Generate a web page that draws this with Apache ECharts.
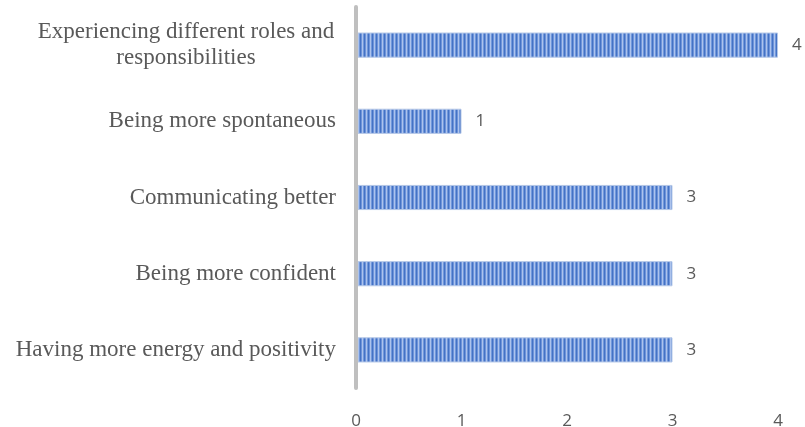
<!DOCTYPE html>
<html><head><meta charset="utf-8">
<script src="https://cdn.jsdelivr.net/npm/echarts@6/dist/echarts.min.js"></script>
<style>html,body{margin:0;padding:0;background:#fff}#c{width:805px;height:427px}</style>
</head><body><div id="c"></div>
<script>
const categories = ['Experiencing different roles and\nresponsibilities','Being more spontaneous','Communicating better','Being more confident','Having more energy and positivity'];
const values = [4, 1, 3, 3, 3];
const ticks = [0, 1, 2, 3, 4];

const cv = document.createElement('canvas');
cv.width = 4; cv.height = 4;
const ctx = cv.getContext('2d');
const cols = ['#4472c4', '#6e94da', '#adc3ec', '#7198dc'];
cols.forEach((c, i) => { ctx.fillStyle = c; ctx.fillRect(i, 0, 1, 4); });

const serif = 'Liberation Serif, Times New Roman, serif';
const chart = echarts.init(document.getElementById('c'));
chart.setOption({
  animation: false,
  grid: {left: 356, right: 27, top: 7, bottom: 39, containLabel: false, outerBoundsMode: 'none'},
  xAxis: {
    type: 'value', min: ticks[0], max: ticks[ticks.length-1], interval: 1,
    splitLine: {show: false}, axisLine: {show: false}, axisTick: {show: false},
    axisLabel: {color: '#595959', fontSize: 17, fontFamily: 'Open Sans, Noto Sans, sans-serif', margin: 25}
  },
  yAxis: {
    type: 'category', inverse: true, data: categories, z: 5,
    axisLine: {show: true, lineStyle: {color: '#bfbfbf', width: 4}},
    axisTick: {show: false},
    axisLabel: {
      color: '#595959', fontSize: 23, fontFamily: serif, margin: 20,
      formatter: function (v) {
        if (v.indexOf('\n') >= 0) return v.split('\n').map(s => '{a|' + s + '}').join('\n');
        return v;
      },
      rich: {a: {width: 300, align: 'center', color: '#595959', fontSize: 23, fontFamily: serif, lineHeight: 26}}
    }
  },
  series: [{
    type: 'bar', data: values, barWidth: '33%',
    itemStyle: {color: {image: cv, repeat: 'repeat'}, borderColor: '#b4c7e7', borderWidth: 1},
    label: {show: true, position: 'right', distance: 14, color: '#595959', fontSize: 17, fontFamily: 'Open Sans, Noto Sans, sans-serif'}
  }]
});
</script></body></html>
